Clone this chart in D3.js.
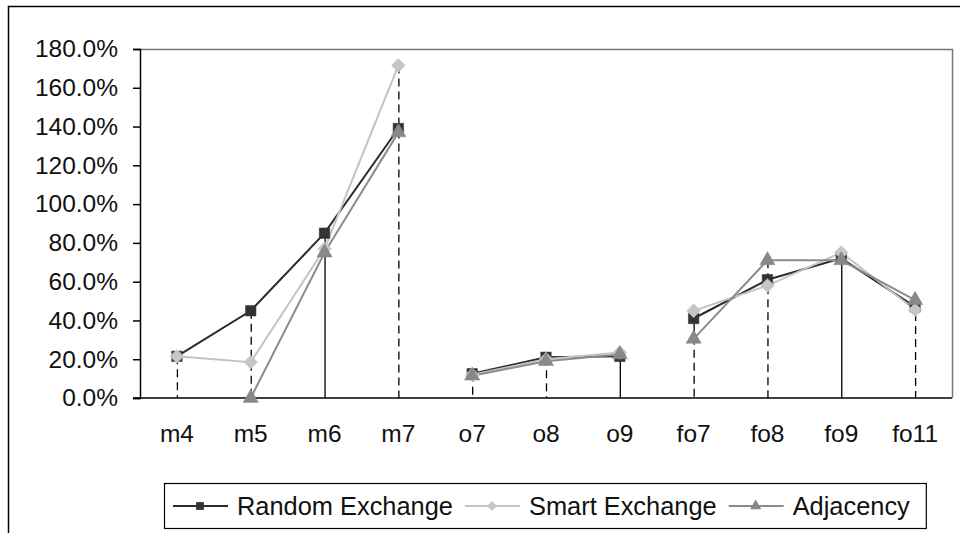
<!DOCTYPE html>
<html>
<head>
    <meta charset="utf-8">
    <style>
        body {
            margin: 0;
            background: #fff;
        }

        svg {
            font-family: "Liberation Sans", Arial, sans-serif;
        }

        .y .tick text,
        .x .tick text {
            font-size: 24.5px;
            fill: #111;
        }

        .legend text {
            font-size: 25.4px;
            fill: #111;
        }
    </style>
</head>
<body>
    <svg width="960" height="533"></svg>

<script src="https://d3js.org/d3.v7.min.js"></script>
<script>
    // categories along the x axis
    const categories = ["m4", "m5", "m6", "m7", "o7", "o8", "o9", "fo7", "fo8", "fo9", "fo11"];

    // values (fractions, null = no point)
    const randomExchange = [0.215, 0.45, 0.85, 1.39, 0.125, 0.21, 0.215, 0.41, 0.61, 0.72, 0.47];
    const smartExchange  = [0.215, 0.185, 0.77, 1.715, 0.12, 0.20, 0.235, 0.45, 0.58, 0.75, 0.455];
    const adjacency      = [null, 0.0, 0.75, 1.37, 0.115, 0.19, 0.225, 0.305, 0.71, 0.71, 0.505];

    const seriesNames = ["Random Exchange", "Smart Exchange", "Adjacency"];
    const yTicks = [0, 0.2, 0.4, 0.6, 0.8, 1.0, 1.2, 1.4, 1.6, 1.8];

    let svg = d3.select("svg");
    let margin = { top: 49, left: 140 };
    let plotRight = 952, plotBottom = 398;

    // outer chart border (runs off the right/bottom of the window)
    svg.append("rect")
        .attr("x", 8.5).attr("y", 6.5)
        .attr("width", 1000).attr("height", 1000)
        .attr("fill", "none").attr("stroke", "#000").attr("stroke-width", 1.5)

    let x = d3.scaleBand()
        .domain(categories)
        .range([margin.left, plotRight])

    let y = d3.scaleLinear()
        .domain([0, 1.8])
        .range([plotBottom, margin.top])

    let cx = d => x(d) + x.bandwidth() / 2;

    // plot area frame (top + right in gray)
    svg.append("path")
        .attr("d", `M${margin.left},${margin.top + 0.5}H${plotRight + 0.5}V${plotBottom}`)
        .attr("fill", "none").attr("stroke", "#777").attr("stroke-width", 1.5)

    let yAxis = svg.append("g")
        .attr("class", "y axis")
        .attr("transform", `translate(${margin.left},0)`)
        .call(d3.axisLeft(y).tickValues(yTicks).tickFormat(d3.format(".1%")).tickSize(7).tickPadding(15))
    yAxis.select(".domain").attr("stroke", "#000").attr("stroke-width", 1.5)
    yAxis.selectAll(".tick line").attr("stroke", "#000").attr("stroke-width", 1.5)

    let xAxis = svg.append("g")
        .attr("class", "x axis")
        .attr("transform", `translate(0,${plotBottom})`)
        .call(d3.axisBottom(x).tickSize(0).tickPadding(27))
    xAxis.select(".domain").attr("d", `M${margin.left - 7},0H${plotRight}`)
        .attr("stroke", "#000").attr("stroke-width", 1.5)

    // drop lines from the highest point of each category
    const solidDrops = new Set(["m6", "o9", "fo9"]);
    let tops = categories.map((c, i) => ({
        cat: c,
        v: d3.max([randomExchange[i], smartExchange[i], adjacency[i]])
    }))
    svg.append("g")
        .selectAll("line")
        .data(tops)
        .join("line")
        .attr("x1", d => cx(d.cat) + 0.5)
        .attr("x2", d => cx(d.cat) + 0.5)
        .attr("y1", d => y(d.v))
        .attr("y2", plotBottom)
        .attr("stroke", "#000")
        .attr("stroke-width", 1.3)
        .attr("stroke-dasharray", d => solidDrops.has(d.cat) ? null : "8,5")

    let series = [
        { name: seriesNames[0], values: randomExchange, line: "#2b2b2b", fill: "#333", shape: d3.symbolSquare, size: 110, rot: 0 },
        { name: seriesNames[1], values: smartExchange, line: "#c4c4c4", fill: "#c6c6c6", shape: d3.symbolSquare, size: 95, rot: 45 },
        { name: seriesNames[2], values: adjacency, line: "#8c8c8c", fill: "#888", shape: d3.symbolTriangle, size: 100, rot: 0 }
    ]

    // lines are broken between m7 and o7, and between o9 and fo7
    const groups = [["m4", "m5", "m6", "m7"], ["o7", "o8", "o9"], ["fo7", "fo8", "fo9", "fo11"]];

    let line = d3.line()
        .defined(d => d.v != null)
        .x(d => cx(d.cat))
        .y(d => y(d.v))

    series.forEach(s => {
        let pts = categories.map((c, i) => ({ cat: c, v: s.values[i] }))
        let g = svg.append("g")
        groups.forEach(grp => {
            g.append("path")
                .datum(pts.filter(p => grp.includes(p.cat)))
                .attr("d", line)
                .attr("fill", "none")
                .attr("stroke", s.line)
                .attr("stroke-width", 2)
        })
    })

    series.forEach(s => {
        let pts = categories.map((c, i) => ({ cat: c, v: s.values[i] })).filter(p => p.v != null)
        svg.append("g")
            .selectAll("path")
            .data(pts)
            .join("path")
            .attr("transform", d => `translate(${cx(d.cat)},${y(d.v)}) rotate(${s.rot})`)
            .attr("d", d3.symbol().type(s.shape).size(s.size))
            .attr("fill", s.fill)
            .attr("stroke", s.fill)
            .attr("stroke-width", 0.5)
    })

    // legend
    let legend = svg.append("g").attr("class", "legend")
    let legendBox = legend.append("rect")
        .attr("x", 164.5).attr("y", 483.5)
        .attr("height", 45)
        .attr("fill", "#fff").attr("stroke", "#000").attr("stroke-width", 1.2)

    let lx = 173;
    series.forEach(s => {
        legend.append("line")
            .attr("x1", lx).attr("x2", lx + 55)
            .attr("y1", 506).attr("y2", 506)
            .attr("stroke", s.line).attr("stroke-width", 2)
        legend.append("path")
            .attr("transform", `translate(${lx + 27},506) rotate(${s.rot})`)
            .attr("d", d3.symbol().type(s.shape).size(s.size * 0.55))
            .attr("fill", s.fill)
        let t = legend.append("text")
            .attr("x", lx + 64).attr("y", 515)
            .text(s.name)
        lx += 64 + t.node().getComputedTextLength() + 12;
    })
    legendBox.attr("width", lx - 164 + 4)
</script>
</body>
</html>
